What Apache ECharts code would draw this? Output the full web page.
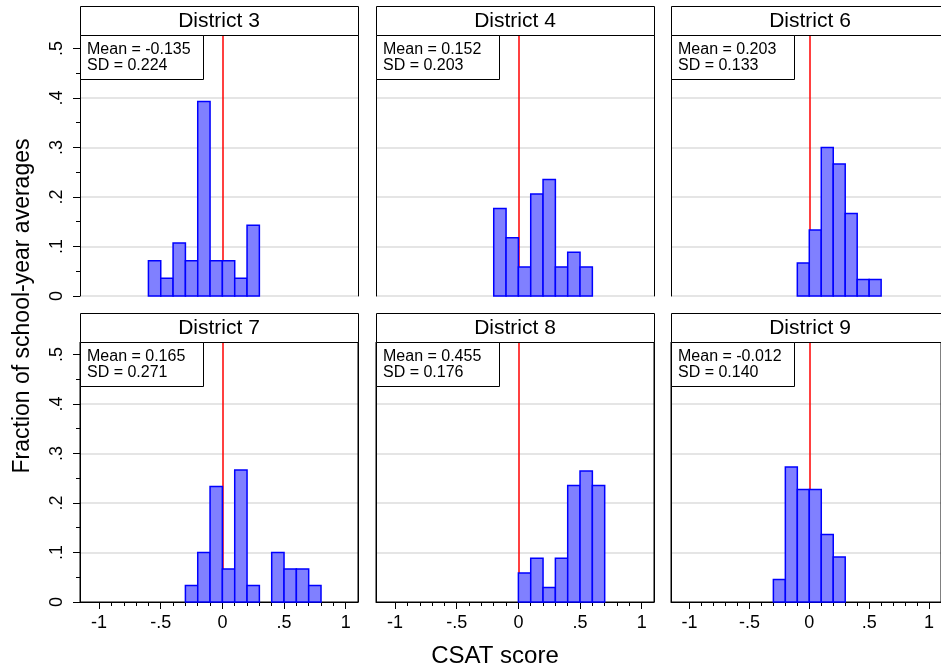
<!DOCTYPE html>
<html>
<head>
<meta charset="utf-8">
<script src="https://cdn.jsdelivr.net/npm/echarts@6/dist/echarts.min.js"></script>
<style>
html,body{margin:0;padding:0;background:#fff;}
#chart{width:941px;height:672px;}
</style>
</head>
<body>
<div id="chart"></div>
<script>
// ---- data ----
const districts = ['District 3', 'District 4', 'District 6', 'District 7', 'District 8', 'District 9'];
const means = ['-0.135', '0.152', '0.203', '0.165', '0.455', '-0.012'];
const sds = ['0.224', '0.203', '0.133', '0.271', '0.176', '0.140'];
const binWidth = 0.1;
const binStarts = [-0.6, -0.2, -0.1, -0.3, 0.0, -0.3];
const d3 = [0.0714, 0.0357, 0.1071, 0.0714, 0.3929, 0.0714, 0.0714, 0.0357, 0.1429];
const d4 = [0.1765, 0.1176, 0.0588, 0.2059, 0.2353, 0.0588, 0.0882, 0.0588];
const d6 = [0.0667, 0.1333, 0.3000, 0.2667, 0.1667, 0.0333, 0.0333];
const d7 = [0.0333, 0.1000, 0.2333, 0.0667, 0.2667, 0.0333, 0, 0.1000, 0.0667, 0.0667, 0.0333];
const d8 = [0.0588, 0.0882, 0.0294, 0.0882, 0.2353, 0.2647, 0.2353];
const d9 = [0.0455, 0.2727, 0.2273, 0.2273, 0.1364, 0.0909];
const fractions = [d3, d4, d6, d7, d8, d9];
const refLine = 0;
const xTicks = [-1, -0.5, 0, 0.5, 1];
const xTickLabels = ['-1', '-.5', '0', '.5', '1'];
const xMinorTicks = [-0.9, -0.8, -0.7, -0.6, -0.4, -0.3, -0.2, -0.1, 0.1, 0.2, 0.3, 0.4, 0.6, 0.7, 0.8, 0.9];
const yTicks = [0, 0.1, 0.2, 0.3, 0.4, 0.5];
const yTickLabels = ['0', '.1', '.2', '.3', '.4', '.5'];
const yMinorTicks = [0.05, 0.15, 0.25, 0.35, 0.45];
const gridValues = [0.1, 0.2, 0.3, 0.4];
const xTitle = 'CSAT score';
const yTitle = 'Fraction of school-year averages';

// ---- layout ----
const FONT = '"Liberation Sans", Arial, Helvetica, sans-serif';
const colLeft = [80, 376, 671];
const panelW = 278;
const rowTop = [35, 342];
const rowH = [261, 260];
const rowYMax = [0.527, 0.525];
const stripTop = [6, 313];
const xMin = -1.155, xMax = 1.1;

const grids = [], xAxes = [], yAxes = [], series = [], graphics = [];

districts.forEach((name, g) => {
  const col = g % 3, row = Math.floor(g / 3);
  const bottomRow = row === 1, leftCol = col === 0;
  grids.push({left: colLeft[col], top: rowTop[row], width: panelW, height: rowH[row], containLabel: false,
    show: bottomRow, borderColor: '#000', borderWidth: 1, backgroundColor: 'transparent', z: 5});
  // x axes
  xAxes.push({
    gridIndex: g, type: 'value', min: xMin, max: xMax, position: 'bottom', z: 5,
    axisLine: {show: bottomRow, onZero: false, lineStyle: {color: '#000', width: 1}},
    axisTick: {show: bottomRow, customValues: xTicks, length: 7, lineStyle: {color: '#000', width: 1}},
    axisLabel: {show: bottomRow, customValues: xTicks, margin: 12, fontSize: 18, fontFamily: FONT, color: '#000',
      formatter: v => xTickLabels[xTicks.indexOf(v)]},
    splitLine: {show: false}
  });
  xAxes.push({
    gridIndex: g, type: 'value', min: xMin, max: xMax, position: 'bottom', z: 5,
    axisLine: {show: false, onZero: false},
    axisTick: {show: bottomRow, customValues: xMinorTicks, length: 4, lineStyle: {color: '#000', width: 1}},
    axisLabel: {show: false}, splitLine: {show: false}
  });
  // y axes
  yAxes.push({
    gridIndex: g, type: 'value', min: 0, max: rowYMax[row], position: 'left', z: 5,
    axisLine: {show: true, onZero: false, lineStyle: {color: '#000', width: 1}},
    axisTick: {show: leftCol, customValues: yTicks, length: 7, lineStyle: {color: '#000', width: 1}},
    axisLabel: {show: leftCol, customValues: yTicks, rotate: 90, margin: 14, fontSize: 18, fontFamily: FONT, color: '#000',
      formatter: v => yTickLabels[yTicks.indexOf(v)]},
    splitLine: {show: false}
  });
  yAxes.push({
    gridIndex: g, type: 'value', min: 0, max: rowYMax[row], position: 'left', z: 5,
    axisLine: {show: false, onZero: false},
    axisTick: {show: leftCol, customValues: yMinorTicks, length: 4, lineStyle: {color: '#000', width: 1}},
    axisLabel: {show: false}, splitLine: {show: false}
  });
  yAxes.push({
    gridIndex: g, type: 'value', min: 0, max: rowYMax[row], position: 'right', z: 5,
    axisLine: {show: true, onZero: false, lineStyle: {color: '#000', width: 1}},
    axisTick: {show: false}, axisLabel: {show: false}, splitLine: {show: false}
  });

  const gl = gridValues.map(v => ({yAxis: v, lineStyle: {color: '#dcdcdc', width: 1.5, type: 'solid'}}));
  if (!bottomRow) gl.unshift({yAxis: 0, lineStyle: {color: '#dcdcdc', width: 1.5, type: 'solid'}});
  gl.push({xAxis: refLine, lineStyle: {color: '#ff0000', width: 1.5, type: 'solid'}});
  series.push({
    type: 'line', xAxisIndex: 2 * g, yAxisIndex: 3 * g, data: [[refLine, 0]],
    showSymbol: false, symbol: 'none', lineStyle: {width: 0}, silent: true, z: 1,
    markLine: {silent: true, z: 1, symbol: ['none', 'none'], label: {show: false}, animation: false, data: gl}
  });

  const bars = fractions[g].map((f, i) => {
    const s = +(binStarts[g] + i * binWidth).toFixed(2);
    return [s, +(s + binWidth).toFixed(2), f];
  });
  series.push({
    type: 'custom', xAxisIndex: 2 * g, yAxisIndex: 3 * g, z: 10, data: bars,
    renderItem: (params, api) => {
      const h = api.value(2);
      if (!h) return null;
      const p0 = api.coord([api.value(0), 0]);
      const p1 = api.coord([api.value(1), h]);
      return {type: 'rect', shape: {x: p0[0], y: p1[1], width: p1[0] - p0[0], height: p0[1] - p1[1]},
        style: {fill: '#8080ff', stroke: '#0000ff', lineWidth: 1.5}};
    }
  });

  // strip title
  graphics.push({type: 'rect', left: colLeft[col], top: stripTop[row], shape: {width: panelW, height: rowTop[row] - stripTop[row]},
    style: {fill: '#fff', stroke: '#000', lineWidth: 1}, z: 20});
  graphics.push({type: 'text', x: colLeft[col] + panelW / 2, y: (stripTop[row] + rowTop[row]) / 2 + 0.5, z: 21,
    style: {text: name, font: '21px ' + FONT, fill: '#000', textAlign: 'center', textVerticalAlign: 'middle'}});
  // stats box
  graphics.push({type: 'rect', left: colLeft[col], top: rowTop[row], shape: {width: 123, height: 44},
    style: {fill: '#fff', stroke: '#000', lineWidth: 1}, z: 20});
  graphics.push({type: 'text', x: colLeft[col] + 7, y: rowTop[row] + 7, z: 21,
    style: {text: 'Mean = ' + means[g] + '\nSD = ' + sds[g], font: '16px ' + FONT, lineHeight: 16, fill: '#000', textAlign: 'left', textVerticalAlign: 'top'}});
});

graphics.push({type: 'text', x: 495, y: 656, z: 21,
  style: {text: xTitle, font: '24px ' + FONT, fill: '#000', textAlign: 'center', textVerticalAlign: 'middle'}});
graphics.push({type: 'text', x: 23, y: 306, rotation: Math.PI / 2, z: 21,
  style: {text: yTitle, font: '23px ' + FONT, fill: '#000', textAlign: 'center', textVerticalAlign: 'middle'}});

const chart = echarts.init(document.getElementById('chart'), null, {renderer: 'canvas'});
chart.setOption({
  backgroundColor: '#fff',
  animation: false,
  grid: grids, xAxis: xAxes, yAxis: yAxes, series: series, graphic: graphics
});
</script>
</body>
</html>
